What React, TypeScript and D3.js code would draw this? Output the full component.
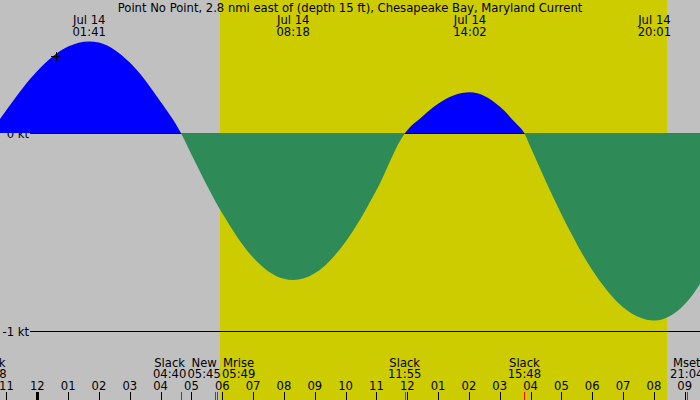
import React from "react";
import * as d3 from "d3";

const W = 700;
const H = 400;

const title = "Point No Point, 2.8 nmi east of (depth 15 ft), Chesapeake Bay, Maryland Current";
const dateLabel = "Jul 14";

// Current readings through the day (hours after local midnight, knots; + flood, - ebb)
const sampleHours = [-1, 0, 1, 2, 3, 4, 5, 6, 7, 8, 9, 10, 11, 12.5, 13, 13.5, 14.5, 15, 15.5, 16, 17, 18, 19, 21, 22];
const sampleSpeeds = [0.119, 0.316, 0.439, 0.459, 0.358, 0.16, -0.106, -0.403, -0.626, -0.734, -0.706, -0.547, -0.287, 0.087, 0.15, 0.192, 0.19, 0.136, 0.055, -0.07, -0.408, -0.69, -0.877, -0.862, -0.626];

// Maximum flood / ebb
const peakClocks = ["01:41", "08:18", "14:02", "20:01"];
const peakSpeeds = [0.465, -0.74, 0.208, -0.944];

// Slack water (day offset -1 = previous evening)
const slackClocks = ["22:28", "04:40", "11:55", "15:48"];
const slackDays = [-1, 0, 0, 0];

// Moon events
const moonNames = ["New", "Mrise", "Mset"];
const moonClocks = ["05:45", "05:49", "21:04"];

// Daylight
const sunriseClock = "05:56";
const sunsetClock = "20:25";

// Current-time marker
const nowClock = "00:36";
const nowSpeed = 0.39;

// Reference lines
const levelValues = [0, -1];
const levelLabels = ["0 kt", "-1 kt"];

// Hour ticks
const tickHours = d3.range(-1, 22);

const FONT = "DejaVu Sans, Verdana, sans-serif";
const FS = 11.6;

const BG = "#c0c0c0";
const DAY = "#cccc00";
const FLOOD = "#0000ff";
const EBB = "#2e8b57";

function clockToHours(c: string, day = 0): number {
  const [h, m] = c.split(":").map(Number);
  return day * 24 + h + m / 60;
}

function hourLabel(h: number): string {
  const hh = ((h % 12) + 12) % 12;
  return hh === 0 ? "12" : String(hh).padStart(2, "0");
}

// Fan out labels that would collide around the mean of their positions
function spreadLabels(xs: number[], slot: number): number[] {
  const order = xs.map((_, i) => i).sort((a, b) => xs[a] - xs[b]);
  const groups: number[][] = [];
  for (const i of order) {
    const g = groups[groups.length - 1];
    if (g && xs[i] - xs[g[g.length - 1]] < slot) g.push(i);
    else groups.push([i]);
  }
  const out = new Array(xs.length).fill(0);
  for (const g of groups) {
    const mean = d3.mean(g, (i) => xs[i]) as number;
    g.forEach((i, k) => {
      out[i] = mean + (k - (g.length - 1) / 2) * slot;
    });
  }
  return out;
}

export default function App() {
  const x = d3.scaleLinear().domain([-1.21, 21.495]).range([0, W]);
  const y = d3.scaleLinear().domain([-1, 0]).range([331.5, 133.5]);
  const zeroY = 133;

  const peakHours = peakClocks.map((c) => clockToHours(c));
  const slackHours = slackClocks.map((c, i) => clockToHours(c, slackDays[i]));

  const points: [number, number][] = [
    ...sampleHours.map((h, i) => [h, sampleSpeeds[i]] as [number, number]),
    ...peakHours.map((h, i) => [h, peakSpeeds[i]] as [number, number]),
    ...slackHours.map((h) => [h, 0] as [number, number]),
  ].sort((a, b) => a[0] - b[0]);

  const area = d3
    .area<[number, number]>()
    .x((d) => x(d[0]))
    .y0(zeroY)
    .y1((d) => y(d[1]))
    .curve(d3.curveMonotoneX);
  const areaPath = area(points) || "";

  const sunX0 = x(clockToHours(sunriseClock));
  const sunX1 = x(clockToHours(sunsetClock));

  // bottom event labels
  const bottomEvents = [
    ...slackHours.map((h, i) => ({ h, name: "Slack", clock: slackClocks[i] })),
    ...moonClocks.map((c, i) => ({ h: clockToHours(c), name: moonNames[i], clock: c })),
  ].sort((a, b) => a.h - b.h);
  const labelXs = spreadLabels(
    bottomEvents.map((e) => x(e.h)),
    34.5
  );

  const nowX = x(clockToHours(nowClock));
  const nowY = y(nowSpeed);

  const crisp = (v: number) => Math.round(v) + 0.5;

  return (
    <svg
      width={W}
      height={H}
      style={{ position: "absolute", left: 0, top: 0, display: "block" }}
      fontFamily={FONT}
      fontSize={FS}
    >
      <defs>
        <clipPath id="floodClip">
          <rect x={0} y={0} width={W} height={zeroY} />
        </clipPath>
        <clipPath id="ebbClip">
          <rect x={0} y={zeroY} width={W} height={H - zeroY} />
        </clipPath>
      </defs>

      <rect x={0} y={0} width={W} height={H} fill={BG} />
      <rect x={sunX0} y={0} width={sunX1 - sunX0} height={H} fill={DAY} shapeRendering="crispEdges" />

      {/* reference levels */}
      {levelValues.map((v, i) => (
        <g key={"lvl" + i}>
          <line x1={30} x2={W} y1={crisp(y(v) - 0.5)} y2={crisp(y(v) - 0.5)} stroke="#000" strokeWidth={1} shapeRendering="crispEdges" />
          <text x={29} y={y(v) + 4} textAnchor="end" fill="#000">
            {levelLabels[i]}
          </text>
        </g>
      ))}

      {/* flood and ebb areas */}
      <path d={areaPath} fill={FLOOD} clipPath="url(#floodClip)" />
      <path d={areaPath} fill={EBB} clipPath="url(#ebbClip)" />

      {/* current-time marker */}
      <g stroke="#000" strokeWidth={1} shapeRendering="crispEdges">
        <line x1={nowX - 4.5} x2={nowX + 4.5} y1={crisp(nowY)} y2={crisp(nowY)} />
        <line x1={crisp(nowX)} x2={crisp(nowX)} y1={nowY - 4.5} y2={nowY + 4.5} />
      </g>

      {/* title */}
      <text x={W / 2} y={12} textAnchor="middle" fill="#000">
        {title}
      </text>

      {/* max / min labels */}
      {peakHours.map((h, i) => (
        <g key={"pk" + i}>
          <text x={x(h)} y={24} textAnchor="middle" fill="#000">
            {dateLabel}
          </text>
          <text x={x(h)} y={36} textAnchor="middle" fill="#000">
            {peakClocks[i]}
          </text>
        </g>
      ))}

      {/* slack and moon labels */}
      {bottomEvents.map((e, i) => (
        <g key={"ev" + i}>
          <text x={labelXs[i]} y={366.5} textAnchor="middle" fill="#000">
            {e.name}
          </text>
          <text x={labelXs[i]} y={377.5} textAnchor="middle" fill="#000">
            {e.clock}
          </text>
          <line x1={crisp(x(e.h))} x2={crisp(x(e.h))} y1={392} y2={H} stroke="#ff0000" strokeWidth={1} shapeRendering="crispEdges" />
        </g>
      ))}

      {/* hour axis */}
      {tickHours.map((h) => (
        <g key={"t" + h}>
          <text x={x(h)} y={390} textAnchor="middle" fill="#000">
            {hourLabel(h)}
          </text>
          {h === 0 ? (
            <rect x={Math.round(x(h)) - 1} y={392} width={3} height={H - 392} fill="#000" shapeRendering="crispEdges" />
          ) : (
            <line x1={crisp(x(h))} x2={crisp(x(h))} y1={392} y2={H} stroke="#000" strokeWidth={1} shapeRendering="crispEdges" />
          )}
        </g>
      ))}
    </svg>
  );
}
